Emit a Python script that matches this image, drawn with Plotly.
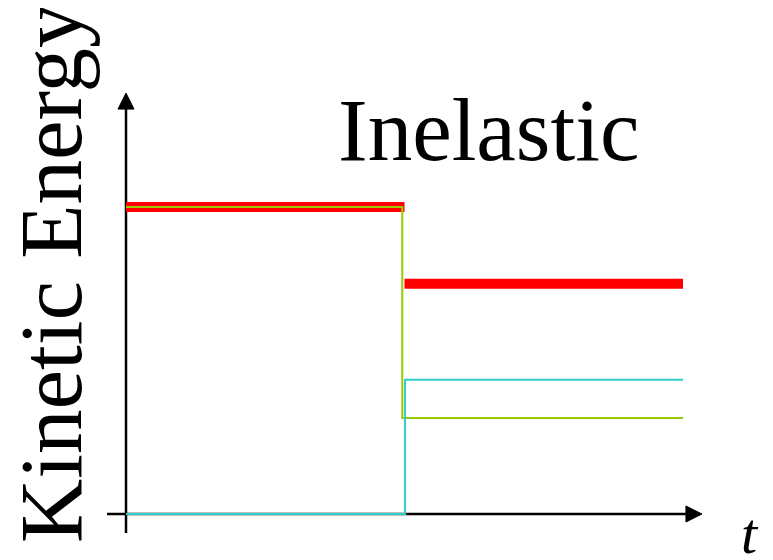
import plotly.graph_objects as go

# Data (time in arbitrary units, kinetic energy in arbitrary units)
t_total_before = [0, 5.0]
ke_total_before = [10, 10]
t_total_after = [5.0, 10]
ke_total_after = [7.5, 7.5]

t_obj1 = [0, 4.96, 4.96, 10]
ke_obj1 = [10, 10, 3.13, 3.13]

t_obj2 = [0, 5.01, 5.01, 10]
ke_obj2 = [0, 0, 4.37, 4.37]

title_text = "Inelastic"
y_label = "Kinetic Energy"
x_label = "t"

OFF = 8  # page body margin
W, H = 773 - OFF, 560 - OFF
px_per_x = 55.7
px_per_y = 30.7
x0_px, y0_px = 126 - OFF, 514 - OFF
xr = [-x0_px / px_per_x, (W - x0_px) / px_per_x]
yr = [-(H - y0_px) / px_per_y, y0_px / px_per_y]


def px(p):
    return (p - OFF) / W


def py(p):
    return 1 - (p - OFF) / H


fig = go.Figure()

# axes (drawn as traces so data lines sit on top)
fig.add_trace(go.Scatter(x=[-0.34, 10.05], y=[0, 0], mode="lines",
                         line=dict(color="black", width=2.5), hoverinfo="skip"))
fig.add_trace(go.Scatter(x=[0, 0], y=[-0.62, 13.3], mode="lines",
                         line=dict(color="black", width=2.5), hoverinfo="skip"))
fig.add_trace(go.Scatter(x=[10.34], y=[0], mode="markers",
                         marker=dict(symbol="arrow-right", size=16, color="black",
                                     line=dict(color="black", width=1)), hoverinfo="skip"))
fig.add_trace(go.Scatter(x=[0], y=[13.71], mode="markers",
                         marker=dict(symbol="arrow-up", size=16, color="black",
                                     line=dict(color="black", width=1)), hoverinfo="skip"))

# total KE (red, thick)
fig.add_trace(go.Scatter(x=t_total_before + [None] + t_total_after,
                         y=ke_total_before + [None] + ke_total_after,
                         mode="lines", line=dict(color="#ff0000", width=10),
                         connectgaps=False))
# object 1 (yellow-green)
fig.add_trace(go.Scatter(x=t_obj1, y=ke_obj1, mode="lines",
                         line=dict(color="#99cc00", width=2)))
# object 2 (cyan)
fig.add_trace(go.Scatter(x=t_obj2, y=ke_obj2, mode="lines",
                         line=dict(color="#33cccc", width=2)))

fig.add_annotation(text=title_text, xref="paper", yref="paper",
                   x=px(488), y=py(130), xanchor="center", yanchor="middle",
                   showarrow=False,
                   font=dict(family="Liberation Serif", size=89, color="black"))
fig.add_annotation(text=y_label, xref="paper", yref="paper",
                   x=px(51), y=py(273), xanchor="center", yanchor="middle",
                   textangle=-90, showarrow=False,
                   font=dict(family="Liberation Serif", size=89, color="black"))
fig.add_annotation(text="<i>" + x_label + "</i>", xref="paper", yref="paper",
                   x=px(750), y=py(533), xanchor="center", yanchor="middle",
                   showarrow=False,
                   font=dict(family="Liberation Serif", size=58, color="black"))

fig.update_layout(
    width=W, height=H,
    margin=dict(l=0, r=0, t=0, b=0),
    showlegend=False,
    plot_bgcolor="white", paper_bgcolor="white",
    xaxis=dict(range=xr, visible=False, showgrid=False, zeroline=False),
    yaxis=dict(range=yr, visible=False, showgrid=False, zeroline=False),
)

fig.write_html("out.html")
